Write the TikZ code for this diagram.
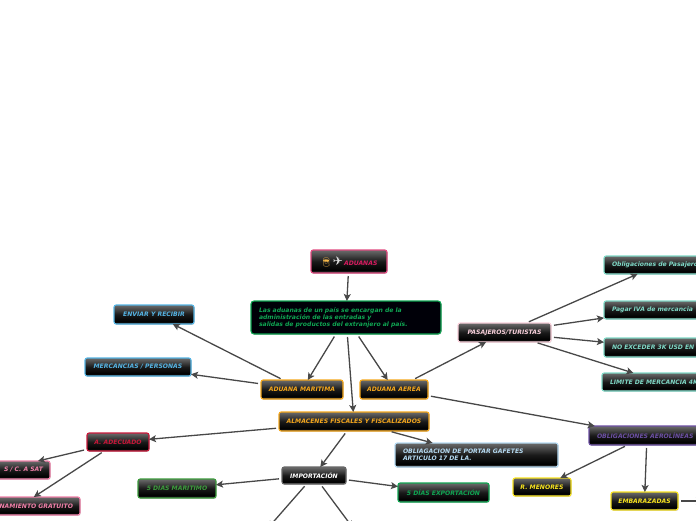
\documentclass[tikz,border=0pt]{standalone}
\usepackage{fontspec}
\setmainfont{DejaVu Sans}[BoldItalicFont={DejaVu Sans Bold Oblique}]
\newfontfamily\emojifont{Noto Emoji}
\newfontfamily\planefont{DejaVu Sans}
\usetikzlibrary{arrows.meta,shadows}
\pgfdeclareverticalshading{gloss}{100bp}{color(0bp)=(black); color(25bp)=(black!68); color(31bp)=(black); color(50bp)=(black!90); color(75bp)=(black!58); color(100bp)=(black!58)}
\definecolor{cpink}{HTML}{D81B60}
\definecolor{cpinkb}{HTML}{E04A80}
\definecolor{cblue}{HTML}{55B4E4}
\definecolor{corange}{HTML}{F5A71C}
\definecolor{cred}{HTML}{C9183A}
\definecolor{crose}{HTML}{F07FA8}
\definecolor{cgreen}{HTML}{3C9B3C}
\definecolor{cemer}{HTML}{0FA552}
\definecolor{csky}{HTML}{B5DAF2}
\definecolor{cpale}{HTML}{F8CFDA}
\definecolor{cteal}{HTML}{7FD8C6}
\definecolor{cpurple}{HTML}{6B4FA3}
\definecolor{cyell}{HTML}{F7E21E}
\definecolor{cline}{HTML}{484848}
\tikzset{
  basebox/.style={draw=#1,text=#1,line width=1.1pt,rounded corners=2.2pt,inner xsep=0pt,inner ysep=0pt,outer sep=0pt,
    font=\fontsize{6.1}{6.8}\selectfont\bfseries\itshape,
    drop shadow={shadow xshift=0.6pt,shadow yshift=-0.8pt,fill=black!35,opacity=0.5}},
  box/.style={basebox=#1,shading=gloss},
  sized/.style 2 args={minimum width=#1,minimum height=#2},
  lbox/.style={text width=#1,inner xsep=8pt,align=left},
  rbox/.style={text width=#1,inner xsep=7pt,align=right},
  link/.style={draw=cline,line width=1.3pt,shorten <=3pt,-{Stealth[length=7pt,width=7pt,inset=1.6pt]}}
}
\begin{document}
\begin{tikzpicture}[x=1pt,y=-1pt]
\useasboundingbox (0,0) rectangle (696,520);
\clip (0,0) rectangle (696,520);
% top
\node[box=cpink,draw=cpinkb,sized={76pt}{23pt}] (aduanas) at (349,261.5) {{\emojifont\textcolor{corange!80!white}{\fontsize{9}{9}\selectfont\char"1F46E}}\,{\planefont\textcolor{black!12}{\fontsize{12}{9}\selectfont\char"2708}}\,ADUANAS};
\node[basebox=cemer,fill=black!97!blue,minimum width=190pt,minimum height=33pt,text width=174pt,inner xsep=8pt,align=left,font=\fontsize{6.1}{7.2}\selectfont\bfseries\itshape,rounded corners=3pt] (desc) at (346,317.5) {Las aduanas de un país se encargan de la\\administración de las entradas y\\salidas de productos del extranjero al país.};
% left
\node[box=cblue,sized={80pt}{19pt}] (enviar) at (154,314.5) {ENVIAR Y RECIBIR};
\node[box=cblue,sized={106pt}{18pt}] (merc) at (138,367) {MERCANCIAS / PERSONAS};
% level 2
\node[box=corange,sized={82pt}{19pt}] (maritima) at (302,389.5) {ADUANA MARITIMA};
\node[box=corange,sized={68pt}{19pt}] (aerea) at (394,389.5) {ADUANA AEREA};
\node[box=corange,sized={150pt}{19pt}] (almacenes) at (354,421.5) {ALMACENES FISCALES Y FISCALIZADOS};
\node[box=csky,minimum height=24pt,lbox=147pt] (gafetes) at (476.5,455) {OBLIAGACION DE PORTAR GAFETES\\ARTICULO 17 DE LA.};
\node[box=white,draw=black!60,sized={64pt}{17pt}] (import) at (314,475.5) {IMPORTACIÓN};
\node[box=cemer,sized={91pt}{19pt}] (export) at (443.5,492.5) {5 DÍAS EXPORTACIÓN};
\node[box=cgreen,sized={78pt}{19pt}] (mar5) at (177,488.5) {5 DIAS MARITIMO};
\node[box=cred,sized={62pt}{18pt}] (adecuado) at (118,442) {A. ADECUADO};
\node[box=crose,minimum height=18pt,rbox=86pt] (sat) at (0,470) {S / C. A SAT};
\node[box=crose,minimum height=18pt,rbox=106pt] (gratuito) at (20,506) {NAMIENTO GRATUITO};
% right
\node[box=cpale,sized={93pt}{19pt}] (pasajeros) at (504.5,332.5) {PASAJEROS/TURISTAS};
\node[box=cteal,minimum height=18pt,lbox=92pt] (oblig) at (658,265) {Obligaciones de Pasajeros};
\node[box=cteal,minimum height=18pt,lbox=92pt] (pagar) at (658,310) {Pagar IVA de mercancia};
\node[box=cteal,minimum height=19pt,lbox=92pt] (exceder) at (658,347.5) {NO EXCEDER 3K USD EN};
\node[box=cteal,minimum height=18pt,lbox=104pt] (limite) at (662,382) {LIMITE DE MERCANCIA 4K};
\node[box=cpurple,minimum height=19pt,lbox=100pt] (aerolineas) at (647,435.5) {OBLIGACIONES AEROLÍNEAS};
\node[box=cyell,sized={58pt}{18pt}] (menores) at (542,487) {R. MENORES};
\node[box=cyell,sized={67pt}{18pt}] (embar) at (644.5,501) {EMBARAZADAS};
% free ends
\coordinate (offa) at (268,528);
\coordinate (offb) at (353,528);
\coordinate (offc) at (703,501);
% connectors
\draw[link] (aduanas) -- (desc);
\draw[link] (desc) -- (maritima);
\draw[link] (desc) -- (aerea);
\draw[link] (desc) -- (almacenes);
\draw[link] (maritima) -- (enviar);
\draw[link] (maritima) -- (merc);
\draw[link] (aerea) -- (pasajeros);
\draw[link] (aerea) -- (aerolineas);
\draw[link] (almacenes) -- (adecuado);
\draw[link] (almacenes) -- (gafetes);
\draw[link] (almacenes) -- (import);
\draw[link] (adecuado) -- (sat);
\draw[link] (adecuado) -- (gratuito);
\draw[link] (import) -- (mar5);
\draw[link] (import) -- (export);
\draw[link] (import) -- (offa);
\draw[link] (import) -- (offb);
\draw[link] (pasajeros) -- (oblig);
\draw[link] (pasajeros) -- (pagar);
\draw[link] (pasajeros) -- (exceder);
\draw[link] (pasajeros) -- (limite);
\draw[link] (aerolineas) -- (menores);
\draw[link] (aerolineas) -- (embar);
\draw[link] (embar) -- (offc);
\end{tikzpicture}
\end{document}
